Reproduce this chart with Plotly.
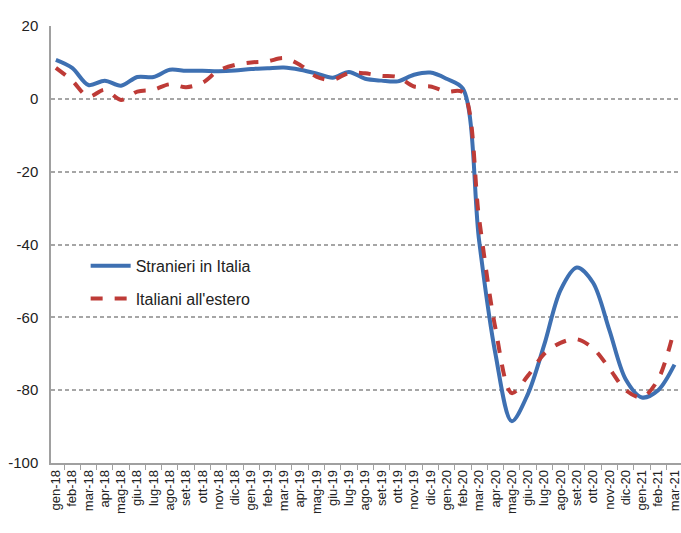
import plotly.graph_objects as go

months = ["gen-18","feb-18","mar-18","apr-18","mag-18","giu-18","lug-18","ago-18","set-18","ott-18","nov-18","dic-18",
          "gen-19","feb-19","mar-19","apr-19","mag-19","giu-19","lug-19","ago-19","set-19","ott-19","nov-19","dic-19",
          "gen-20","feb-20","mar-20","apr-20","mag-20","giu-20","lug-20","ago-20","set-20","ott-20","nov-20","dic-20",
          "gen-21","feb-21","mar-21"]

stranieri = [10.7, 8.5, 3.8, 5.0, 3.6, 6.0, 6.0, 8.0, 7.7, 7.7, 7.6, 7.8,
             8.2, 8.4, 8.6, 8.0, 7.0, 5.8, 7.4, 5.5, 5.0, 4.8, 6.6, 7.2,
             5.5, 2.8, -39.0, -70.0, -88.5, -81.0, -67.5, -52.5, -46.3, -50.5, -63.5, -77.0,
             -82.0, -80.0, -73.0]

italiani = [8.5, 5.0, 0.6, 2.5, -0.3, 2.0, 2.5, 4.0, 3.2, 4.4, 7.8, 9.3,
            10.0, 10.3, 11.2, 9.3, 6.1, 5.2, 7.1, 7.0, 6.3, 6.0, 3.4, 3.4,
            2.0, 1.8, -33.0, -63.0, -80.8, -76.0, -70.0, -67.0, -66.0, -68.5, -74.0, -80.0,
            -82.0, -77.0, -63.0]

yticks = [20, 0, -20, -40, -60, -80, -100]

font_family = "Liberation Sans Narrow, Liberation Sans, Arial Narrow, sans-serif"

fig = go.Figure()
fig.add_trace(go.Scatter(x=months, y=stranieri, mode="lines", name="Stranieri in Italia",
                         legendgroup="a",
                         line=dict(color="#3E70B2", width=4, shape="spline", smoothing=0.9)))
fig.add_trace(go.Scatter(x=months, y=italiani, mode="lines", name="Italiani all'estero",
                         legendgroup="b",
                         line=dict(color="#BE3B37", width=4, dash="dash", shape="spline", smoothing=0.9)))

fig.update_layout(
    width=681, height=533,
    margin=dict(l=51, r=0, t=26, b=70),
    paper_bgcolor="white", plot_bgcolor="white",
    font=dict(family=font_family, size=14, color="#222222"),
    showlegend=True,
    legend=dict(x=0.055, y=0.49, xanchor="left", yanchor="top",
                bgcolor="rgba(0,0,0,0)", font=dict(size=16, family=font_family),
                tracegroupgap=9, itemwidth=40),
    xaxis=dict(type="category", range=[-0.3, 38.4], showgrid=False,
               showline=True, linecolor="#A0A0A0", linewidth=1.5,
               ticks="outside", ticklen=5, tickcolor="#A0A0A0", tickson="boundaries",
               tickangle=-90, tickfont=dict(size=13, family=font_family),
               automargin=False),
    yaxis=dict(range=[-100, 20], tickvals=yticks, ticktext=[str(v) for v in yticks],
               showgrid=True, gridcolor="#A6A6A6", griddash="4px,3px", gridwidth=1.5,
               zeroline=False, showline=True, linecolor="#A0A0A0", linewidth=1.5,
               ticks="", tickfont=dict(size=15, family=font_family),
               ticklabelstandoff=8, automargin=False),
)

fig.write_html("out.html")
